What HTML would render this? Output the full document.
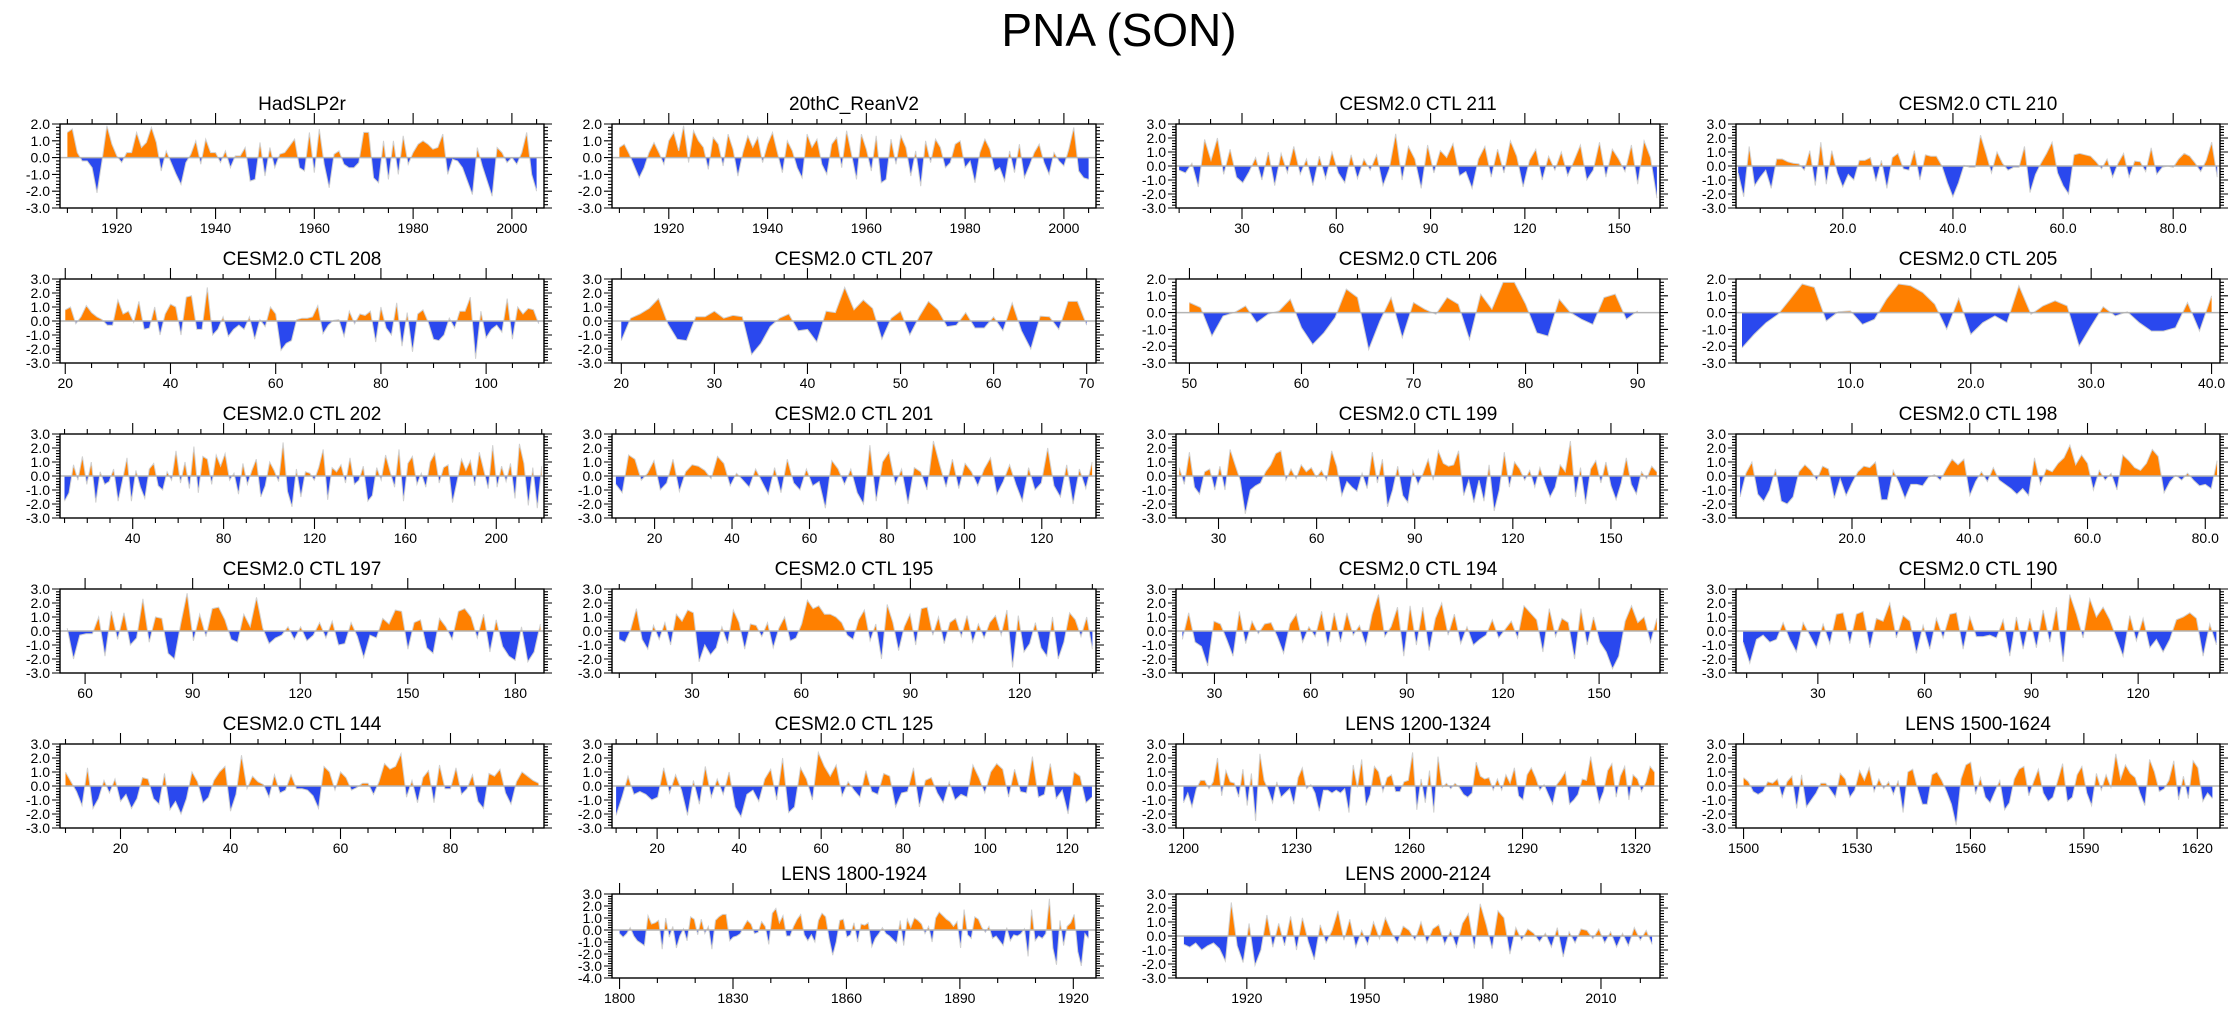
<!DOCTYPE html>
<html><head><meta charset="utf-8"><title>PNA (SON)</title>
<style>
html,body{margin:0;padding:0;background:#fff;}
svg{display:block;font-family:"Liberation Sans",Arial,sans-serif;}
</style></head>
<body>
<svg id="fig" width="2238" height="1009" viewBox="0 0 2238 1009" xmlns="http://www.w3.org/2000/svg">
<text x="1119" y="46" text-anchor="middle" font-size="46">PNA (SON)</text>
</svg>
<script>
// ---- data (one array per panel) ----
const panelTitles = ["HadSLP2r","20thC_ReanV2","CESM2.0 CTL 211","CESM2.0 CTL 210","CESM2.0 CTL 208","CESM2.0 CTL 207","CESM2.0 CTL 206","CESM2.0 CTL 205","CESM2.0 CTL 202","CESM2.0 CTL 201","CESM2.0 CTL 199","CESM2.0 CTL 198","CESM2.0 CTL 197","CESM2.0 CTL 195","CESM2.0 CTL 194","CESM2.0 CTL 190","CESM2.0 CTL 144","CESM2.0 CTL 125","LENS 1200-1324","LENS 1500-1624","LENS 1800-1924","LENS 2000-2124"];
const dataStart = [1910,1910,10,1,20,20,50,1,10,10,18,1,55,10,20,9,10,10,1200,1500,1800,1904];
const dataEnd   = [2005,2005,162,88,110,70,90,40,220,133,164,82,187,140,168,142,96,126,1325,1624,1924,2023];
const axisMin   = [1908.5,1908.5,9,0.6,19,19,48.8,0.5,8,9,17,0.3,53,8,18,7,9,9,1198,1498,1798,1902];
const axisMax   = [2006.5,2006.5,163,88.5,111,71,92,40.7,221,134,165,82.5,188,141,169,143,97,127,1326.5,1626,1926,2025];
const xTickLabels = [
 ["1920","1940","1960","1980","2000"],["1920","1940","1960","1980","2000"],
 ["30","60","90","120","150"],["20.0","40.0","60.0","80.0"],
 ["20","40","60","80","100"],["20","30","40","50","60","70"],
 ["50","60","70","80","90"],["10.0","20.0","30.0","40.0"],
 ["40","80","120","160","200"],["20","40","60","80","100","120"],
 ["30","60","90","120","150"],["20.0","40.0","60.0","80.0"],
 ["60","90","120","150","180"],["30","60","90","120"],
 ["30","60","90","120","150"],["30","60","90","120"],
 ["20","40","60","80"],["20","40","60","80","100","120"],
 ["1200","1230","1260","1290","1320"],["1500","1530","1560","1590","1620"],
 ["1800","1830","1860","1890","1920"],["1920","1950","1980","2010"]];
const yTop    = [2,2,3,3,3,3,2,2,3,3,3,3,3,3,3,3,3,3,3,3,3,3];
const yBottom = [-3,-3,-3,-3,-3,-3,-3,-3,-3,-3,-3,-3,-3,-3,-3,-3,-3,-3,-3,-3,-4,-3];

const hadslp2r = [1.5,1.7,0.3,-0.2,-0.2,-0.6,-2.1,-0.2,1.9,0.8,0.1,-0.3,0.3,0.3,1.5,0.6,0.9,1.8,0.9,-0.8,0.4,-0.3,-1.0,-1.6,-0.3,0.2,1.0,-0.4,1.1,0.3,0.3,-0.3,0.4,-0.6,0.1,0.1,0.6,-1.4,-1.3,0.9,-1.1,0.6,-0.6,0.2,0.3,0.7,1.1,-0.6,-0.8,1.5,-0.9,1.7,-0.4,-1.8,0.2,0.4,-0.4,-0.6,-0.6,-0.3,1.5,1.5,-1.2,-1.5,1.0,-1.3,1.0,-1.0,1.3,-0.4,0.3,0.8,1.0,0.8,0.5,0.6,1.4,-1.0,-0.1,-0.2,-0.6,-1.4,-2.2,0.6,-0.5,-1.4,-2.3,0.6,0.3,-0.3,0.0,-0.4,0.3,1.5,-1.0,-2.0];
const reanV2 = [0.6,0.8,0.2,-0.5,-1.2,-0.6,0.3,0.9,0.3,-0.4,1.0,1.5,0.4,1.9,-0.3,1.6,1.0,0.6,-0.7,1.2,0.8,-0.5,1.4,0.5,-1.1,0.3,1.3,0.6,1.2,-0.3,0.8,1.5,0.3,-0.9,1.0,0.4,-0.6,-1.2,1.4,0.6,1.1,-0.4,-1.0,0.8,1.2,-0.6,1.6,0.2,-1.3,1.4,0.5,-0.8,1.3,-1.5,-1.3,1.1,-0.4,1.3,0.6,-1.1,0.4,-1.7,1.0,-0.3,1.1,0.6,-0.6,-0.3,0.8,1.0,-0.6,-0.2,-1.5,0.3,1.1,0.5,-0.8,-0.6,-1.4,0.4,-0.9,0.8,-1.2,-0.5,0.3,0.8,-0.3,-1.0,0.3,-0.2,-0.5,0.5,1.8,-0.8,-1.2,-1.3];
const ctl211 = [-0.3,-0.5,0.2,-1.5,1.9,0.4,2.0,-0.6,1.2,-0.8,-1.2,-0.4,0.6,-1.0,1.0,-1.4,0.9,-0.5,1.4,-0.6,0.5,-1.4,0.7,-0.9,1.0,-0.5,-1.2,0.8,-0.9,0.5,-0.3,0.8,-1.4,-0.2,2.3,-1.0,1.4,0.5,-1.6,1.5,-0.5,1.1,0.6,1.6,-0.7,-0.4,-1.6,0.5,1.4,-0.8,1.2,-0.5,1.8,0.7,-1.5,0.4,1.2,-1.0,0.7,-0.3,1.0,-0.7,0.4,1.5,-1.0,-0.3,1.7,-0.8,1.2,0.5,-0.4,1.5,-1.3,1.8,0.6,-2.3];
const ctl210 = [-0.5,-2.2,1.4,-1.4,-0.8,-0.3,-1.6,0.5,0.5,0.3,0.2,0.15,-0.3,1.1,-1.4,1.7,-1.3,1.1,-0.5,-1.5,-0.6,-1.0,0.4,0.4,0.6,-1.1,0.4,-1.6,0.6,0.9,-0.2,-0.3,1.1,-1.0,0.8,0.7,0.7,0.0,-1.2,-2.2,-1.2,0.05,-0.1,-0.1,2.2,0.9,-0.5,1.0,0.2,-0.3,-0.1,-0.1,1.4,-1.9,-0.6,0.2,0.9,1.7,-0.5,-1.4,-2.0,0.8,0.9,0.8,0.7,0.3,-0.2,0.5,-0.8,0.2,0.9,-0.8,0.35,0.3,-0.4,1.3,-0.6,-0.1,0.0,-0.1,0.5,0.9,0.7,0.2,-0.4,0.4,1.7,-0.8];
const ctl208 = [0.8,1.0,-0.2,0.3,1.1,0.6,0.3,0.1,-0.3,-0.3,1.5,0.5,0.7,-0.1,1.4,-0.6,-0.5,1.0,-1.0,0.5,1.2,1.0,-1.0,1.7,1.8,-0.6,-0.6,2.4,-1.0,-0.6,0.3,-1.1,-0.6,-0.3,-0.6,0.3,-1.3,0.1,-0.4,1.0,0.5,-2.1,-1.6,-1.4,0.1,0.2,0.2,0.3,1.1,-0.9,-0.3,0.05,0.1,-1.1,0.7,-0.2,0.5,0.4,0.7,-1.5,1.0,-0.5,-1.0,1.3,-1.8,0.6,-2.2,0.5,0.8,-0.1,-1.3,-1.4,-1.0,0.2,-0.5,0.7,0.7,1.7,-2.7,0.7,-1.2,-0.6,-0.3,-0.8,1.6,-1.3,1.0,0.5,0.9,0.8,-0.2];
const ctl207 = [-1.4,0.2,0.5,0.9,1.6,-0.2,-1.3,-1.4,0.3,0.3,0.7,0.2,0.4,0.3,-2.4,-1.6,-0.4,0.2,0.5,-0.7,-0.6,-1.5,0.7,0.6,2.4,0.8,1.5,0.9,-1.3,0.2,0.7,-1.0,0.3,1.4,0.8,-0.4,-0.3,0.6,-0.5,-0.5,0.3,-0.7,1.3,-0.7,-2.0,0.35,0.3,-0.6,1.4,1.4,-0.3];
const ctl206 = [0.6,0.3,-1.4,-0.2,0.0,0.4,-0.6,-0.1,0.1,0.8,-0.9,-1.9,-1.2,-0.3,1.4,0.9,-2.2,-0.5,0.9,-1.5,0.6,0.2,-0.1,0.9,0.5,-1.6,1.1,0.2,1.8,1.8,0.5,-1.2,-1.4,0.8,0.0,-0.4,-0.7,0.9,1.1,-0.4,0.1];
const ctl205 = [-2.1,-1.3,-0.6,-0.1,0.8,1.7,1.5,-0.5,0.05,0.1,-0.7,-0.4,0.8,1.7,1.6,1.2,0.5,-1.0,0.85,-1.3,-0.6,-0.2,-0.6,1.6,-0.1,0.4,0.7,0.4,-2.0,-0.8,0.35,-0.2,0.05,-0.6,-1.1,-1.1,-0.9,0.6,-1.1,1.0];
const ctl202 = [-1.8,-1.2,0.8,-0.3,1.4,-0.6,1.0,-1.9,0.3,-0.6,-0.4,0.5,-1.8,-0.3,1.3,-1.8,0.4,-0.8,-1.6,0.5,0.9,-0.7,-1.0,0.3,-0.3,1.8,-0.5,1.0,-0.9,2.1,-1.2,1.4,1.2,-0.6,1.5,0.7,1.6,-0.3,0.2,-1.3,0.9,-0.6,0.4,1.2,-1.5,-0.7,1.0,0.4,-0.4,2.4,-1.1,-2.2,0.5,-1.5,0.3,0.2,-0.3,0.6,1.9,-1.7,0.6,0.3,0.8,-0.5,1.3,-0.6,-0.3,0.7,-1.8,-1.4,0.6,-0.3,1.5,0.3,-0.8,1.9,-1.8,0.9,1.4,-0.6,0.2,-0.8,1.0,1.6,-0.5,0.6,0.8,-1.9,-0.4,1.2,0.4,1.1,-0.7,1.7,0.4,-0.9,2.2,-0.8,0.7,-0.4,0.9,-1.6,2.3,0.9,-2.1,0.6,-2.3,0.7];
const ctl201 = [-0.6,-1.2,1.5,1.2,-0.3,0.2,1.1,-1.0,-0.5,1.2,-1.1,0.3,0.8,0.7,0.4,-0.2,1.4,0.9,-0.7,0.2,-0.3,-0.8,0.5,-0.4,-1.3,0.6,-1.2,1.2,-0.5,-1.0,0.5,-0.7,-0.4,-2.3,1.1,0.5,-0.6,0.5,-1.2,-2.0,2.2,-1.8,1.0,1.7,-0.6,0.5,-2.0,0.6,0.3,-1.0,2.5,0.8,-0.8,1.2,-0.9,0.9,0.3,-0.7,0.5,1.3,-1.3,-0.4,0.8,-0.6,-1.8,0.6,-1.0,-0.5,2.0,-0.7,-1.5,0.8,-2.0,0.5,-0.9,1.0];
const ctl199 = [0.6,-0.6,1.7,-0.8,-1.3,0.3,0.5,-1.0,0.7,-1.0,1.9,0.8,-0.3,-2.7,-1.0,-0.7,-0.5,0.3,0.8,1.6,1.8,-0.3,0.5,-0.2,0.8,0.3,0.6,-0.1,0.4,-0.3,1.8,0.7,-1.4,-0.4,-0.8,-1.1,0.2,-0.9,1.7,-0.5,1.2,-2.2,-1.0,0.7,-1.4,-1.9,0.4,-0.6,0.2,1.2,-0.3,1.8,0.9,0.7,0.8,1.8,-1.4,-0.3,-1.9,-0.3,-1.8,0.8,-2.5,-1.0,1.7,-0.8,1.0,0.5,-0.3,0.4,-0.8,0.6,-0.5,-1.5,-0.8,0.8,0.3,2.5,-1.5,0.6,-2.0,0.5,1.1,-0.5,1.0,-0.7,-1.7,-0.5,1.3,-0.6,-1.3,0.3,-0.2,0.7,0.3];
const ctl198 = [-1.5,0.2,1.0,-1.3,-1.8,-1.0,0.5,-1.8,-2.0,-1.5,0.3,0.8,0.4,-0.3,0.7,0.5,-1.6,-0.2,-1.4,-0.5,0.3,0.7,0.6,1.0,-1.7,-1.7,0.4,-0.5,-1.6,-0.6,-0.6,-0.7,-0.1,0.1,-0.3,0.5,1.2,0.8,1.2,-1.4,-0.4,0.3,-0.4,0.6,-0.3,-0.6,-0.9,-1.3,-0.9,-1.4,1.3,-0.6,0.5,0.3,0.9,1.3,2.2,0.8,1.5,0.9,-1.0,0.4,-0.3,0.2,-1.0,1.5,1.1,0.6,0.4,0.9,1.9,1.4,-1.2,-0.4,0.05,-0.3,0.2,-0.3,-0.7,-0.6,-0.9,1.1];
const ctl197 = [0.2,-2.0,-0.3,-0.2,-0.2,1.0,-1.8,1.4,-0.6,1.3,-1.0,-0.5,2.3,-0.8,1.0,0.9,-1.6,-2.0,0.5,2.7,-0.7,1.2,-0.4,1.6,1.7,0.8,-0.6,-0.8,1.2,0.3,2.4,0.2,-0.9,-0.5,-0.3,0.3,-0.6,0.3,-0.7,-0.3,0.6,-0.5,0.7,-1.0,-0.9,0.6,-0.4,-1.9,-0.3,-0.5,0.9,0.5,1.5,1.4,-1.3,0.6,0.8,-1.2,-1.6,0.9,0.3,-0.6,1.4,1.6,1.0,-0.5,1.2,-1.5,0.8,-1.1,-1.8,-2.1,0.3,-2.2,-1.5,0.5];
const ctl195 = [-0.6,-0.8,0.1,1.6,-0.6,-1.3,0.4,-0.6,0.6,-1.0,1.2,0.7,1.5,1.3,-2.2,-1.0,-1.7,-1.2,0.3,-0.9,1.5,0.6,-1.3,0.5,0.4,-0.4,0.6,-1.2,0.2,1.0,-0.7,-0.5,0.5,2.2,1.6,1.8,1.2,1.2,1.0,0.6,-0.3,-0.6,0.8,1.5,-0.7,0.5,-2.0,1.9,0.6,-1.4,0.3,1.2,-1.0,1.6,1.7,-0.3,1.0,-0.9,0.6,0.9,-0.4,1.1,-0.8,0.5,-0.5,0.6,1.1,-0.3,1.5,-2.6,1.1,-1.5,-0.9,0.6,-1.2,-1.8,1.0,-2.0,-0.8,1.3,0.8,-0.4,1.0,-1.3];
const ctl194 = [-0.6,1.3,-0.8,-1.1,-2.5,0.7,0.5,-0.6,-1.8,1.4,-0.9,0.7,-0.2,0.5,0.6,-0.4,-1.6,0.5,1.2,-0.8,0.3,-0.4,1.4,-1.1,1.3,-0.8,1.3,-0.3,0.4,-1.0,1.2,2.6,-0.4,0.3,1.7,-1.8,1.8,-1.0,1.7,-1.4,0.9,2.0,-0.3,1.2,-0.9,0.3,-1.0,-0.6,-0.3,0.8,-0.5,0.1,0.7,-0.5,1.8,1.3,0.8,-1.5,1.6,-0.4,0.9,0.6,-2.0,1.6,-1.0,1.0,-0.8,-1.5,-2.7,-1.8,0.7,1.8,0.6,1.0,-0.8,0.9];
const ctl190 = [-0.8,-2.3,-0.6,-0.3,-0.8,-0.6,0.6,-0.6,-1.5,0.6,-0.3,-1.2,0.5,-0.9,1.2,1.3,-0.9,1.2,1.4,-1.2,0.9,0.7,2.0,-0.5,1.1,0.7,-1.6,0.4,-1.3,0.9,-0.5,1.2,1.3,-1.3,1.0,-0.4,-0.4,-0.3,-0.5,0.8,-1.8,1.0,-1.3,0.9,-1.2,1.5,-0.8,1.7,-2.2,2.6,1.2,-0.5,2.3,1.0,1.7,0.8,-0.5,-1.8,1.1,-0.7,0.9,-1.2,-0.6,-1.5,-0.6,0.8,1.0,1.3,0.9,-1.8,0.5,-1.0];
const ctl144 = [1.0,0.3,-0.4,-1.4,1.3,-1.6,-0.9,0.4,-0.5,0.5,-1.1,-0.6,-1.6,-0.9,0.6,0.5,-0.9,-1.3,0.9,-1.7,-1.1,-2.0,-0.9,1.0,0.3,-1.2,-0.8,0.4,1.0,1.4,-1.8,-0.6,2.2,-0.2,0.7,0.3,0.1,-0.8,0.8,-0.5,-0.3,0.8,-0.2,-0.2,-0.3,-0.7,-1.6,1.4,1.0,-0.3,1.0,0.6,-0.3,-0.1,0.2,0.2,-0.6,0.3,1.6,1.2,1.4,2.3,-0.8,0.4,-1.2,0.6,1.1,-1.2,1.5,-0.2,-0.2,1.3,-0.6,-0.2,0.8,-1.1,-1.6,0.9,0.7,1.2,-0.5,-1.3,0.3,1.0,0.7,0.4,0.2];
const ctl125 = [-2.1,-0.8,0.7,-0.6,-0.4,-0.6,-1.0,-0.8,1.3,-0.5,0.8,-0.3,-2.1,0.4,-1.3,1.4,-0.8,0.5,-0.6,1.0,-1.5,-2.2,-0.6,-0.3,-1.1,0.5,1.2,-1.0,2.0,-1.9,-1.5,1.3,0.5,-1.0,2.4,1.4,0.7,1.5,-0.7,0.3,-0.3,-0.8,1.1,-0.4,-0.6,0.9,0.7,-1.5,-0.5,-0.4,1.3,-1.5,0.4,0.6,-0.5,-1.2,0.3,-1.0,-0.6,-0.8,1.5,0.6,-0.5,1.0,1.6,1.2,-0.8,1.2,-0.4,-0.5,2.1,-0.8,-0.6,1.6,-0.9,-0.3,-2.0,1.0,0.7,-1.2,-0.8];
const lens1200 = [-1.2,-0.5,-1.5,-0.2,0.4,0.4,-0.2,0.3,2.0,-0.7,1.1,0.3,0.2,-0.8,1.2,-1.4,0.9,-2.5,2.3,0.4,-0.3,-1.2,0.3,-0.8,-0.5,-0.2,-1.3,0.6,1.3,-0.2,0.1,-0.5,-1.8,-0.3,-0.3,-0.5,-0.3,-0.5,-0.2,-1.9,1.5,-0.1,1.9,-1.4,-0.6,1.4,1.0,-0.4,0.6,0.8,-0.4,-0.4,0.3,0.4,2.4,-1.7,0.5,-1.2,1.1,-1.9,2.1,-0.1,0.2,-0.2,0.2,-0.1,-0.6,-0.8,-0.5,1.7,0.7,0.5,0.6,-0.3,0.5,-0.3,0.8,0.2,1.3,-0.7,-1.0,0.8,1.3,0.6,-0.3,0.1,-0.6,-1.3,0.1,0.5,1.0,-1.3,-1.0,-0.6,0.5,0.4,2.1,0.3,-1.2,-0.4,1.1,1.6,-0.8,0.7,1.4,-1.0,0.8,0.5,-0.4,0.3,1.4,1.0];
const lens1500 = [0.6,0.3,-0.4,-0.6,-0.4,0.3,0.2,0.5,-0.8,0.3,0.7,-1.6,0.8,-1.5,-1.0,-0.5,0.2,0.2,-0.3,-0.8,0.9,0.5,-0.8,-0.3,1.1,0.4,1.3,-0.4,0.5,-0.2,0.3,-0.6,0.4,-1.9,1.0,1.2,-0.2,-1.3,-1.3,0.8,1.0,0.4,-0.4,-1.3,-2.8,0.5,1.5,1.7,-0.6,0.6,-0.8,-1.2,-0.4,0.4,-1.7,-1.2,0.5,1.2,1.4,-0.7,0.3,1.2,-0.5,-1.1,-0.8,0.4,1.6,-1.1,-0.8,0.8,1.4,-0.5,-1.4,0.9,-0.3,0.8,-0.1,2.3,0.5,1.5,0.9,0.6,-0.5,-1.4,1.9,1.0,-0.4,-0.2,0.4,1.8,-1.0,0.7,-0.9,1.8,1.3,-1.1,-0.5,-0.9];
const lens1800 = [-0.3,-0.6,-0.3,0.2,-0.5,-0.9,-1.1,-1.3,1.2,0.5,0.6,0.8,-1.6,1.0,-0.6,0.3,-1.5,-0.5,0.1,-0.9,1.1,0.9,-0.4,0.9,-0.3,0.3,-1.6,0.8,1.1,1.3,1.3,-0.9,-0.6,-0.5,-0.3,0.3,0.8,0.5,-0.3,-0.2,0.7,0.3,-1.2,1.4,1.8,0.6,1.2,-0.5,-0.5,0.3,0.9,1.3,-0.4,-0.9,-0.4,-1.0,0.8,1.4,1.1,-0.7,-2.1,-1.0,0.8,0.9,-0.6,-0.4,0.6,-1.0,0.5,0.4,0.6,-1.4,-0.7,-0.3,0.2,-0.3,-0.5,-0.8,-1.1,0.8,-1.3,0.9,0.2,1.0,0.8,0.5,-0.3,0.3,-1.0,1.0,1.5,1.2,0.9,0.7,0.3,0.7,-1.5,1.7,-0.4,-0.7,1.1,0.9,0.2,-0.2,0.3,-0.7,-0.5,-0.9,-1.3,0.2,-0.9,-0.4,-0.5,-0.3,0.1,-2.2,1.7,-0.9,-0.5,-0.7,-0.3,2.6,-1.5,-2.9,0.8,-1.3,0.3,0.6,1.3,-1.8,-3.0,-0.3,-0.7];
const lens2000 = [-0.6,-0.8,-0.5,-1.0,-0.7,-0.5,-0.9,-1.8,2.4,-0.7,-1.9,0.9,-2.1,-1.0,1.5,-0.8,0.9,-0.7,1.4,-1.0,1.3,-0.4,-1.7,0.8,-0.5,0.4,1.8,-0.3,1.2,-0.8,0.4,-0.6,1.0,-0.2,1.3,0.3,-0.5,0.7,0.4,-0.3,1.0,-0.5,0.5,0.8,-0.6,0.4,-0.8,0.9,1.6,-0.9,2.3,0.8,-0.9,1.8,1.3,-1.3,0.6,-0.3,0.5,0.2,-0.4,0.2,-0.8,0.6,-1.5,0.3,-0.5,0.5,0.4,-0.2,0.5,-0.5,0.3,-0.8,0.2,-0.7,0.6,-0.3,0.4,-0.6];
const panelSeries = [hadslp2r,reanV2,ctl211,ctl210,ctl208,ctl207,ctl206,ctl205,ctl202,ctl201,ctl199,ctl198,ctl197,ctl195,ctl194,ctl190,ctl144,ctl125,lens1200,lens1500,lens1800,lens2000];

// ---- layout ----
const NS = "http://www.w3.org/2000/svg";
const svg = document.getElementById('fig');
const colLeft = [60,612,1176,1736];
const rowTop = [124,279,434,589,744,894];
const PW = 484, PH = 84;
const ORANGE = "#ff8000", BLUE = "#2a48ee";
function mk(tag, attrs, parent){
  const e = document.createElementNS(NS, tag);
  for (const k in attrs) e.setAttribute(k, attrs[k]);
  (parent||svg).appendChild(e);
  return e;
}
function slug(s){ return s.toLowerCase().replace(/[^a-z0-9]+/g,'-').replace(/^-|-$/g,''); }

panelTitles.forEach((title, p) => {
  let r, c;
  if (p < 20) { r = Math.floor(p/4); c = p%4; } else { r = 5; c = p - 19; }
  const L = colLeft[c], T = rowTop[r], B = T + PH, R = L + PW;
  const xmin = axisMin[p], xmax = axisMax[p];
  const ymax = yTop[p], ymin = yBottom[p];
  const xs = v => L + (v - xmin) / (xmax - xmin) * PW;
  const ys = v => T + (ymax - v) / (ymax - ymin) * PH;
  const g = mk('g', {});
  
  

  const t = mk('text', {x: L + PW/2, y: T - 14, 'text-anchor':'middle', 'font-size': 19}, g);
  
  
  t.textContent = title;

  const vals = panelSeries[p];
  const n = vals.length;
  const x0 = dataStart[p], x1 = dataEnd[p];
  const pts = vals.map((v,i) => [xs(x0 + (x1-x0)*i/(n-1)), ys(v)]);
  const zy = ys(0);
  const poly = pts.map(q => q[0].toFixed(1)+','+q[1].toFixed(1)).join(' ');
  const area = xs(x0).toFixed(1)+','+zy.toFixed(1)+' '+poly+' '+xs(x1).toFixed(1)+','+zy.toFixed(1);
  const cpA = 'cpa'+p, cpB = 'cpb'+p;
  const defs = mk('defs', {}, g);
  const c1 = mk('clipPath', {id: cpA}, defs); mk('rect', {x:L, y:T, width:PW, height: zy - T}, c1);
  const c2 = mk('clipPath', {id: cpB}, defs); mk('rect', {x:L, y:zy, width:PW, height: B - zy}, c2);
  const pos = mk('polygon', {points: area, fill: ORANGE, 'clip-path': 'url(#'+cpA+')'}, g);
  
  
  const neg = mk('polygon', {points: area, fill: BLUE, 'clip-path': 'url(#'+cpB+')'}, g);
  
  
  const line = mk('polyline', {points: poly, fill: 'none', stroke: '#d0d0d0', 'stroke-width': 1}, g);
  
  
  const zl = mk('line', {x1:L, x2:R, y1:zy, y2:zy, stroke:'#b4b4b4', 'stroke-width':1.5}, g);
  
  

  const fr = mk('rect', {x:L, y:T, width:PW, height:PH, fill:'none', stroke:'#000', 'stroke-width':1.4}, g);
  
  

  let tk = '';
  for (let k = Math.round(ymin*5); k <= Math.round(ymax*5); k++) {
    const v = k/5, y = ys(v), major = (k % 5 === 0);
    const len = major ? 8 : 4;
    tk += `M${L-len},${y}H${L}M${R},${y}H${R+len}`;
    if (major) {
      const yl = mk('text', {x: L-10, y: y+5, 'text-anchor':'end', 'font-size':14}, g);
      
      
      yl.textContent = v.toFixed(1);
    }
  }
  const labs = xTickLabels[p];
  const lv = labs.map(Number);
  const step = lv.length > 1 ? lv[1]-lv[0] : 10;
  const nmin = (step % 3 === 0 && step % 20 !== 0) ? 3 : 4;
  const ms = step / nmin;
  const start = lv[0] - Math.floor((lv[0]-xmin)/ms)*ms;
  for (let v = start; v <= xmax + 1e-6; v += ms) {
    const x = xs(v);
    const major = Math.abs(((v - lv[0]) / step) - Math.round((v - lv[0]) / step)) < 1e-6;
    const len = major ? 11 : 5;
    tk += `M${x},${B}V${B+len}M${x},${T}V${T-len}`;
  }
  const tp = mk('path', {d: tk, stroke:'#000', 'stroke-width':1.1, fill:'none'}, g);
  
  
  labs.forEach((s, i) => {
    const xl = mk('text', {x: xs(lv[i]), y: B + 25, 'text-anchor':'middle', 'font-size':14}, g);
    
    
    xl.textContent = s;
  });
});
</script>
</body></html>
